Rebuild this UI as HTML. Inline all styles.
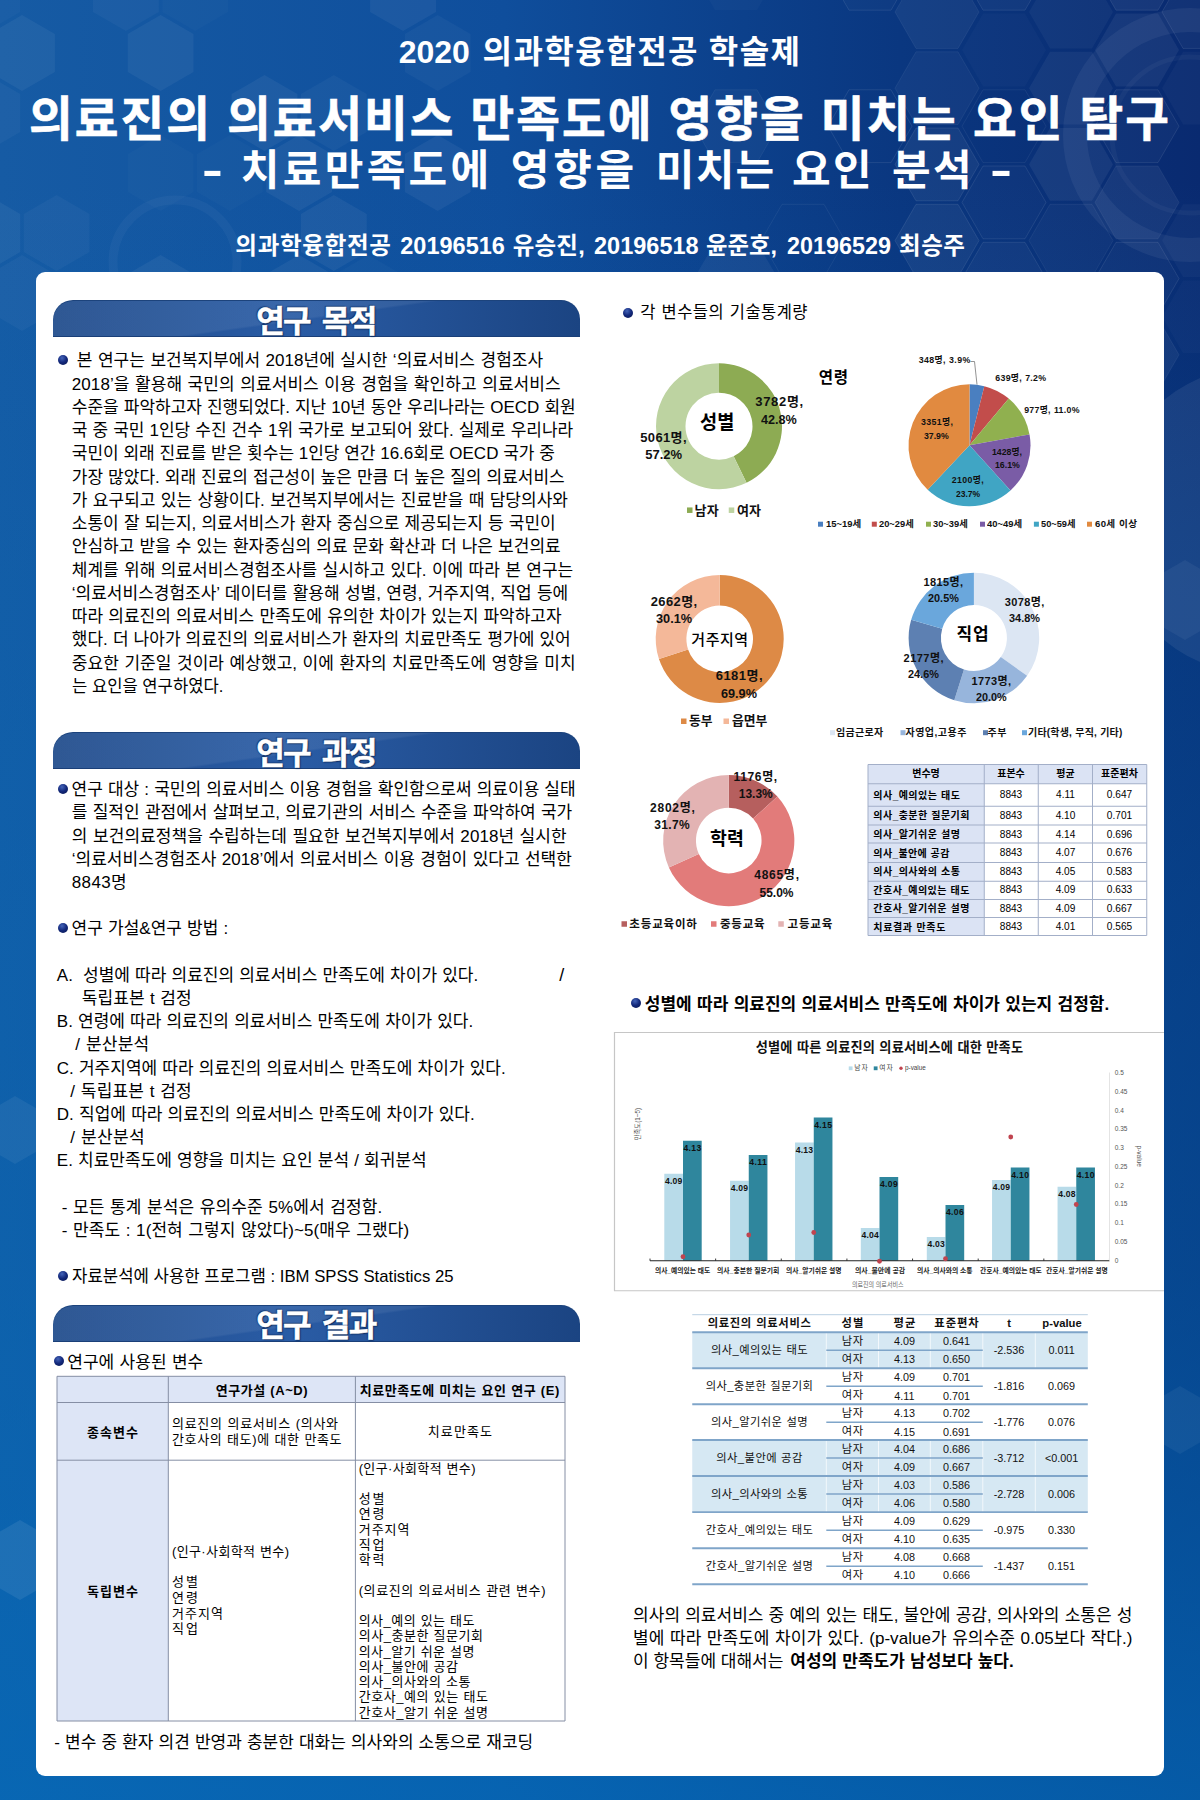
<!DOCTYPE html>
<html lang="ko"><head><meta charset="utf-8"><title>의료진의 의료서비스 만족도에 영향을 미치는 요인 탐구</title>
<style>

html,body{margin:0;padding:0}
body{width:1200px;height:1800px;overflow:hidden;background:#0d4d9c}
#poster{position:relative;width:1200px;height:1800px;overflow:hidden;font-family:'Liberation Sans','Noto Sans CJK KR',sans-serif;color:#000;
 background:linear-gradient(to bottom,rgba(4,104,180,0) 10%,rgba(4,104,180,.2) 30%,rgba(4,104,180,.34) 50%,rgba(4,104,180,.45) 70%,rgba(4,105,182,.6) 85%,rgba(4,106,184,.76) 100%),linear-gradient(to right,#165ba4 0%,#0f4e9c 42%,#0a3780 75%,#092a70 100%)}
.t{position:absolute;white-space:pre}
.abs{position:absolute}
#panel{left:36px;top:272.4px;width:1128px;height:1503.6px;background:#fff;border-radius:9px}
.ban{left:53px;width:527px;height:37px;border-radius:20px 19px 0 0;
 background:linear-gradient(172deg,rgba(255,255,255,.07) 0%,rgba(255,255,255,.07) 48%,rgba(255,255,255,0) 50%),linear-gradient(to right,#1f4b8b 0%,#2a5ca5 45%,#1b4482 100%);
 box-shadow:inset 0 1px 0 #1c437c, inset 0 -1px 0 #1a3f78}
.bt{color:#fff;font-weight:700;-webkit-text-stroke:0.5px #fff;text-shadow:0 0 2px #0c2a5c,1px 1px 1px #0c2a5c,-1px -1px 1px #16386e}
.bu{width:10px;height:10px;border-radius:50%;background:radial-gradient(circle at 40% 30%,#4464b8 0%,#13297c 48%,#07154b 100%)}
.tt{-webkit-text-stroke:0.6px #fff}
svg{position:absolute;left:0;top:0;overflow:visible}

</style></head>
<body>
<div id="poster">
<svg width="1200" height="1800" viewBox="0 0 1200 1800"><polygon points="20.3,12.0 -12.6,31.0 -45.5,12.0 -45.5,-26.0 -12.6,-45.0 20.3,-26.0" fill="#fff" fill-opacity="0.025"/><polygon points="158.8,12.0 125.9,31.0 93.0,12.0 93.0,-26.0 125.9,-45.0 158.8,-26.0" fill="#fff" fill-opacity="0.035"/><polygon points="228.1,12.0 195.2,31.0 162.3,12.0 162.3,-26.0 195.2,-45.0 228.1,-26.0" fill="#fff" fill-opacity="0.02"/><polygon points="436.0,12.0 403.1,31.0 370.1,12.0 370.1,-26.0 403.1,-45.0 436.0,-26.0" fill="#fff" fill-opacity="0.05"/><polygon points="-14.4,72.0 -47.3,91.0 -80.2,72.0 -80.2,34.0 -47.3,15.0 -14.4,34.0" fill="#fff" fill-opacity="0.025"/><polygon points="54.9,72.0 22.0,91.0 -10.9,72.0 -10.9,34.0 22.0,15.0 54.9,34.0" fill="#fff" fill-opacity="0.05"/><polygon points="193.5,72.0 160.6,91.0 127.7,72.0 127.7,34.0 160.6,15.0 193.5,34.0" fill="#fff" fill-opacity="0.05"/><polygon points="470.6,72.0 437.7,91.0 404.8,72.0 404.8,34.0 437.7,15.0 470.6,34.0" fill="#fff" fill-opacity="0.035"/><polygon points="20.3,132.0 -12.6,151.0 -45.5,132.0 -45.5,94.0 -12.6,75.0 20.3,94.0" fill="#fff" fill-opacity="0.035"/><polygon points="297.4,132.0 264.5,151.0 231.6,132.0 231.6,94.0 264.5,75.0 297.4,94.0" fill="#fff" fill-opacity="0.05"/><polygon points="366.7,132.0 333.8,151.0 300.9,132.0 300.9,94.0 333.8,75.0 366.7,94.0" fill="#fff" fill-opacity="0.035"/><polygon points="-14.4,192.0 -47.3,211.0 -80.2,192.0 -80.2,154.0 -47.3,135.0 -14.4,154.0" fill="#fff" fill-opacity="0.05"/><polygon points="193.5,192.0 160.6,211.0 127.7,192.0 127.7,154.0 160.6,135.0 193.5,154.0" fill="#fff" fill-opacity="0.02"/><polygon points="262.8,192.0 229.8,211.0 196.9,192.0 196.9,154.0 229.8,135.0 262.8,154.0" fill="#fff" fill-opacity="0.02"/><polygon points="332.0,192.0 299.1,211.0 266.2,192.0 266.2,154.0 299.1,135.0 332.0,154.0" fill="#fff" fill-opacity="0.05"/><polygon points="470.6,192.0 437.7,211.0 404.8,192.0 404.8,154.0 437.7,135.0 470.6,154.0" fill="#fff" fill-opacity="0.05"/><polygon points="20.3,252.0 -12.6,271.0 -45.5,252.0 -45.5,214.0 -12.6,195.0 20.3,214.0" fill="#fff" fill-opacity="0.05"/><polygon points="89.5,252.0 56.6,271.0 23.7,252.0 23.7,214.0 56.6,195.0 89.5,214.0" fill="#fff" fill-opacity="0.035"/><polygon points="366.7,252.0 333.8,271.0 300.9,252.0 300.9,214.0 333.8,195.0 366.7,214.0" fill="#fff" fill-opacity="0.05"/><polygon points="-14.4,312.0 -47.3,331.0 -80.2,312.0 -80.2,274.0 -47.3,255.0 -14.4,274.0" fill="#fff" fill-opacity="0.025"/><polygon points="54.9,312.0 22.0,331.0 -10.9,312.0 -10.9,274.0 22.0,255.0 54.9,274.0" fill="#fff" fill-opacity="0.035"/><polygon points="193.5,312.0 160.6,331.0 127.7,312.0 127.7,274.0 160.6,255.0 193.5,274.0" fill="#fff" fill-opacity="0.05"/><polygon points="332.0,312.0 299.1,331.0 266.2,312.0 266.2,274.0 299.1,255.0 332.0,274.0" fill="#fff" fill-opacity="0.05"/><polygon points="401.3,312.0 368.4,331.0 335.5,312.0 335.5,274.0 368.4,255.0 401.3,274.0" fill="#fff" fill-opacity="0.025"/><polygon points="778.0,-26.2 757.0,10.2 715.0,10.2 694.0,-26.2 715.0,-62.6 757.0,-62.6" fill="#fff" fill-opacity="0.025" stroke="#fff" stroke-opacity="0" stroke-width="1"/><polygon points="778.0,126.2 757.0,162.6 715.0,162.6 694.0,126.2 715.0,89.8 757.0,89.8" fill="#fff" fill-opacity="0.03" stroke="#fff" stroke-opacity="0.06" stroke-width="1"/><polygon points="778.0,278.6 757.0,315.0 715.0,315.0 694.0,278.6 715.0,242.3 757.0,242.3" fill="#fff" fill-opacity="0.05" stroke="#fff" stroke-opacity="0" stroke-width="1"/><polygon points="778.0,354.8 757.0,391.2 715.0,391.2 694.0,354.8 715.0,318.5 757.0,318.5" fill="#fff" fill-opacity="0.06" stroke="#fff" stroke-opacity="0.09" stroke-width="1"/><polygon points="845.0,-64.2 824.0,-27.8 782.0,-27.8 761.0,-64.2 782.0,-100.6 824.0,-100.6" fill="#fff" fill-opacity="0.06" stroke="#fff" stroke-opacity="0.09" stroke-width="1"/><polygon points="845.0,240.6 824.0,277.0 782.0,277.0 761.0,240.6 782.0,204.3 824.0,204.3" fill="#fff" fill-opacity="0" stroke="#fff" stroke-opacity="0.06" stroke-width="1"/><polygon points="912.0,-26.2 891.0,10.2 849.0,10.2 828.0,-26.2 849.0,-62.6 891.0,-62.6" fill="#fff" fill-opacity="0.025" stroke="#fff" stroke-opacity="0.09" stroke-width="1"/><polygon points="912.0,126.2 891.0,162.6 849.0,162.6 828.0,126.2 849.0,89.8 891.0,89.8" fill="#fff" fill-opacity="0" stroke="#fff" stroke-opacity="0.09" stroke-width="1"/><polygon points="912.0,354.8 891.0,391.2 849.0,391.2 828.0,354.8 849.0,318.5 891.0,318.5" fill="#fff" fill-opacity="0.06" stroke="#fff" stroke-opacity="0" stroke-width="1"/><polygon points="979.0,-64.2 958.0,-27.8 916.0,-27.8 895.0,-64.2 916.0,-100.6 958.0,-100.6" fill="#fff" fill-opacity="0.025" stroke="#fff" stroke-opacity="0" stroke-width="1"/><polygon points="979.0,12.0 958.0,48.4 916.0,48.4 895.0,12.0 916.0,-24.4 958.0,-24.4" fill="#fff" fill-opacity="0.05" stroke="#fff" stroke-opacity="0.06" stroke-width="1"/><polygon points="979.0,88.2 958.0,124.6 916.0,124.6 895.0,88.2 916.0,51.8 958.0,51.8" fill="#fff" fill-opacity="0.04" stroke="#fff" stroke-opacity="0.06" stroke-width="1"/><polygon points="979.0,164.4 958.0,200.8 916.0,200.8 895.0,164.4 916.0,128.0 958.0,128.0" fill="#fff" fill-opacity="0.05" stroke="#fff" stroke-opacity="0.09" stroke-width="1"/><polygon points="979.0,240.6 958.0,277.0 916.0,277.0 895.0,240.6 916.0,204.3 958.0,204.3" fill="#fff" fill-opacity="0.05" stroke="#fff" stroke-opacity="0.09" stroke-width="1"/><polygon points="1046.0,-26.2 1025.0,10.2 983.0,10.2 962.0,-26.2 983.0,-62.6 1025.0,-62.6" fill="#fff" fill-opacity="0.04" stroke="#fff" stroke-opacity="0.09" stroke-width="1"/><polygon points="1046.0,50.0 1025.0,86.4 983.0,86.4 962.0,50.0 983.0,13.6 1025.0,13.6" fill="#fff" fill-opacity="0.025" stroke="#fff" stroke-opacity="0" stroke-width="1"/><polygon points="1046.0,126.2 1025.0,162.6 983.0,162.6 962.0,126.2 983.0,89.8 1025.0,89.8" fill="#fff" fill-opacity="0" stroke="#fff" stroke-opacity="0.06" stroke-width="1"/><polygon points="1046.0,202.4 1025.0,238.8 983.0,238.8 962.0,202.4 983.0,166.0 1025.0,166.0" fill="#fff" fill-opacity="0.025" stroke="#fff" stroke-opacity="0.09" stroke-width="1"/><polygon points="1046.0,278.6 1025.0,315.0 983.0,315.0 962.0,278.6 983.0,242.3 1025.0,242.3" fill="#fff" fill-opacity="0.04" stroke="#fff" stroke-opacity="0.09" stroke-width="1"/><polygon points="1046.0,354.8 1025.0,391.2 983.0,391.2 962.0,354.8 983.0,318.5 1025.0,318.5" fill="#fff" fill-opacity="0.025" stroke="#fff" stroke-opacity="0.06" stroke-width="1"/><polygon points="1113.0,-64.2 1092.0,-27.8 1050.0,-27.8 1029.0,-64.2 1050.0,-100.6 1092.0,-100.6" fill="#fff" fill-opacity="0" stroke="#fff" stroke-opacity="0.09" stroke-width="1"/><polygon points="1113.0,12.0 1092.0,48.4 1050.0,48.4 1029.0,12.0 1050.0,-24.4 1092.0,-24.4" fill="#fff" fill-opacity="0.04" stroke="#fff" stroke-opacity="0" stroke-width="1"/><polygon points="1113.0,88.2 1092.0,124.6 1050.0,124.6 1029.0,88.2 1050.0,51.8 1092.0,51.8" fill="#fff" fill-opacity="0.05" stroke="#fff" stroke-opacity="0" stroke-width="1"/><polygon points="1113.0,164.4 1092.0,200.8 1050.0,200.8 1029.0,164.4 1050.0,128.0 1092.0,128.0" fill="#fff" fill-opacity="0.06" stroke="#fff" stroke-opacity="0" stroke-width="1"/><polygon points="1113.0,240.6 1092.0,277.0 1050.0,277.0 1029.0,240.6 1050.0,204.3 1092.0,204.3" fill="#fff" fill-opacity="0.03" stroke="#fff" stroke-opacity="0.06" stroke-width="1"/><polygon points="1113.0,316.8 1092.0,353.2 1050.0,353.2 1029.0,316.8 1050.0,280.5 1092.0,280.5" fill="#fff" fill-opacity="0.03" stroke="#fff" stroke-opacity="0" stroke-width="1"/><polygon points="1179.0,-26.2 1158.0,10.2 1116.0,10.2 1095.0,-26.2 1116.0,-62.6 1158.0,-62.6" fill="#fff" fill-opacity="0.06" stroke="#fff" stroke-opacity="0.09" stroke-width="1"/><polygon points="1179.0,50.0 1158.0,86.4 1116.0,86.4 1095.0,50.0 1116.0,13.6 1158.0,13.6" fill="#fff" fill-opacity="0.06" stroke="#fff" stroke-opacity="0" stroke-width="1"/><polygon points="1179.0,126.2 1158.0,162.6 1116.0,162.6 1095.0,126.2 1116.0,89.8 1158.0,89.8" fill="#fff" fill-opacity="0.03" stroke="#fff" stroke-opacity="0.09" stroke-width="1"/><polygon points="1179.0,202.4 1158.0,238.8 1116.0,238.8 1095.0,202.4 1116.0,166.0 1158.0,166.0" fill="#fff" fill-opacity="0.06" stroke="#fff" stroke-opacity="0.06" stroke-width="1"/><polygon points="1179.0,278.6 1158.0,315.0 1116.0,315.0 1095.0,278.6 1116.0,242.3 1158.0,242.3" fill="#fff" fill-opacity="0.03" stroke="#fff" stroke-opacity="0.09" stroke-width="1"/><polygon points="1179.0,354.8 1158.0,391.2 1116.0,391.2 1095.0,354.8 1116.0,318.5 1158.0,318.5" fill="#fff" fill-opacity="0.05" stroke="#fff" stroke-opacity="0.06" stroke-width="1"/><polygon points="1246.0,-64.2 1225.0,-27.8 1183.0,-27.8 1162.0,-64.2 1183.0,-100.6 1225.0,-100.6" fill="#fff" fill-opacity="0.025" stroke="#fff" stroke-opacity="0.09" stroke-width="1"/><polygon points="1246.0,12.0 1225.0,48.4 1183.0,48.4 1162.0,12.0 1183.0,-24.4 1225.0,-24.4" fill="#fff" fill-opacity="0.04" stroke="#fff" stroke-opacity="0.09" stroke-width="1"/><polygon points="1246.0,88.2 1225.0,124.6 1183.0,124.6 1162.0,88.2 1183.0,51.8 1225.0,51.8" fill="#fff" fill-opacity="0.03" stroke="#fff" stroke-opacity="0" stroke-width="1"/><polygon points="1246.0,240.6 1225.0,277.0 1183.0,277.0 1162.0,240.6 1183.0,204.3 1225.0,204.3" fill="#fff" fill-opacity="0.03" stroke="#fff" stroke-opacity="0" stroke-width="1"/><polygon points="1246.0,316.8 1225.0,353.2 1183.0,353.2 1162.0,316.8 1183.0,280.5 1225.0,280.5" fill="#fff" fill-opacity="0.025" stroke="#fff" stroke-opacity="0" stroke-width="1"/><circle cx="1190" cy="135" r="115" fill="none" stroke="#fff" stroke-opacity=".055" stroke-width="24"/><circle cx="1190" cy="135" r="78" fill="none" stroke="#fff" stroke-opacity=".035" stroke-width="5"/><circle cx="1262" cy="520" r="155" fill="#fff" fill-opacity=".07"/><circle cx="175" cy="262" r="62" fill="none" stroke="#fff" stroke-opacity=".035" stroke-width="9"/><polygon points="44.4,1147.0 15.0,1164.0 -14.4,1147.0 -14.4,1113.0 15.0,1096.0 44.4,1113.0" fill="#fff" fill-opacity="0.06"/><polygon points="54.6,1580.0 20.0,1600.0 -14.6,1580.0 -14.6,1540.0 20.0,1520.0 54.6,1540.0" fill="#fff" fill-opacity="0.08"/><polygon points="1219.6,620.0 1185.0,640.0 1150.4,620.0 1150.4,580.0 1185.0,560.0 1219.6,580.0" fill="#fff" fill-opacity="0.05"/><polygon points="1209.4,1437.0 1180.0,1454.0 1150.6,1437.0 1150.6,1403.0 1180.0,1386.0 1209.4,1403.0" fill="#fff" fill-opacity="0.05"/></svg>
<div class="abs" id="panel"></div>
<div class="abs ban" style="top:300px"></div>
<div class="abs ban" style="top:732px"></div>
<div class="abs ban" style="top:1304.5px"></div>
<div class="abs bu" style="left:57.5px;top:355.0px;width:10px;height:10px"></div>
<div class="abs bu" style="left:57.5px;top:783.5px;width:10px;height:10px"></div>
<div class="abs bu" style="left:57.5px;top:922.7px;width:10px;height:10px"></div>
<div class="abs bu" style="left:57.5px;top:1270.7px;width:10px;height:10px"></div>
<div class="abs bu" style="left:53.75px;top:1356.25px;width:10px;height:10px"></div>
<svg width="1200" height="1800" viewBox="0 0 1200 1800"><rect x="57" y="1376.3" width="508" height="26.200000000000045" fill="#dde5f6"/><rect x="57" y="1376.3" width="111.30000000000001" height="344.70000000000005" fill="#dde5f6"/><line x1="57" y1="1376.3" x2="57" y2="1721" stroke="#858ea4" stroke-width="1"/><line x1="168.3" y1="1376.3" x2="168.3" y2="1721" stroke="#858ea4" stroke-width="1"/><line x1="355.4" y1="1376.3" x2="355.4" y2="1721" stroke="#858ea4" stroke-width="1"/><line x1="565" y1="1376.3" x2="565" y2="1721" stroke="#858ea4" stroke-width="1"/><line x1="57" y1="1376.3" x2="565" y2="1376.3" stroke="#858ea4" stroke-width="1"/><line x1="57" y1="1402.5" x2="565" y2="1402.5" stroke="#858ea4" stroke-width="1"/><line x1="57" y1="1460.2" x2="565" y2="1460.2" stroke="#858ea4" stroke-width="1"/><line x1="57" y1="1721" x2="565" y2="1721" stroke="#858ea4" stroke-width="1"/></svg>
<div class="abs bu" style="left:622.7px;top:307.5px;width:10px;height:10px"></div>
<div class="abs bu" style="left:631.0px;top:998.4px;width:10px;height:10px"></div>
<svg width="1200" height="1800" viewBox="0 0 1200 1800"><path d="M719.00,363.20A63,63 0 0 1 746.54,482.86L733.64,456.33A33.5,33.5 0 0 0 719.00,392.70Z" fill="#8dab53"/><path d="M746.54,482.86A63,63 0 1 1 719.00,363.20L719.00,392.70A33.5,33.5 0 1 0 733.64,456.33Z" fill="#bdd3a1"/><path d="M969.5,445.3L969.50,384.30A61,61 0 0 1 984.33,386.13Z" fill="#4a7fc0"/><path d="M969.5,445.3L984.33,386.13A61,61 0 0 1 1008.74,398.60Z" fill="#c24d4b"/><path d="M969.5,445.3L1008.74,398.60A61,61 0 0 1 1029.52,434.41Z" fill="#90b04f"/><path d="M969.5,445.3L1029.52,434.41A61,61 0 0 1 1010.48,490.49Z" fill="#7a5ca6"/><path d="M969.5,445.3L1010.48,490.49A61,61 0 0 1 927.68,489.70Z" fill="#40a5c4"/><path d="M969.5,445.3L927.68,489.70A61,61 0 0 1 969.50,384.30Z" fill="#e18a40"/><path d="M719.70,574.90A64,64 0 1 1 658.96,659.06L688.10,649.39A33.3,33.3 0 1 0 719.70,605.60Z" fill="#dd8a46"/><path d="M658.96,659.06A64,64 0 0 1 719.70,574.90L719.70,605.60A33.3,33.3 0 0 0 688.10,649.39Z" fill="#f4b899"/><path d="M973.90,572.70A65.3,65.3 0 0 1 1027.12,675.83L1000.80,657.12A33,33 0 0 0 973.90,605.00Z" fill="#dce6f3"/><path d="M1027.12,675.83A65.3,65.3 0 0 1 954.29,700.29L963.99,669.48A33,33 0 0 0 1000.80,657.12Z" fill="#97b5dc"/><path d="M954.29,700.29A65.3,65.3 0 0 1 911.17,619.86L942.20,628.83A33,33 0 0 0 963.99,669.48Z" fill="#5d80b2"/><path d="M911.17,619.86A65.3,65.3 0 0 1 973.90,572.70L973.90,605.00A33,33 0 0 0 942.20,628.83Z" fill="#6aa7dc"/><path d="M728.75,775.00A65.6,65.6 0 0 1 777.41,796.60L753.08,818.60A32.8,32.8 0 0 0 728.75,807.80Z" fill="#b65f5e"/><path d="M777.41,796.60A65.6,65.6 0 1 1 668.88,867.41L698.81,854.00A32.8,32.8 0 1 0 753.08,818.60Z" fill="#e27b7a"/><path d="M668.88,867.41A65.6,65.6 0 0 1 728.75,775.00L728.75,807.80A32.8,32.8 0 0 0 698.81,854.00Z" fill="#e3b3b3"/><polyline points="970.5,361.5 974.5,361.5 977,384.5" fill="none" stroke="#777" stroke-width="0.8"/><rect x="687" y="507.45" width="5.5" height="5.5" fill="#8dab53"/><rect x="728.75" y="507.45" width="5.5" height="5.5" fill="#bdd3a1"/><rect x="818" y="521.7" width="5" height="5" fill="#4a7fc0"/><rect x="871.8" y="521.7" width="5" height="5" fill="#c24d4b"/><rect x="926" y="521.7" width="5" height="5" fill="#90b04f"/><rect x="980" y="521.7" width="5" height="5" fill="#7a5ca6"/><rect x="1033.9" y="521.7" width="5" height="5" fill="#40a5c4"/><rect x="1087" y="521.7" width="5" height="5" fill="#e18a40"/><rect x="681" y="718.5" width="5.5" height="5.5" fill="#dd8a46"/><rect x="723.5" y="718.5" width="5.5" height="5.5" fill="#f4b899"/><rect x="830" y="730.2" width="5" height="5" fill="#dce6f3"/><rect x="900.5" y="730.2" width="5" height="5" fill="#97b5dc"/><rect x="983" y="730.2" width="5" height="5" fill="#5d80b2"/><rect x="1022" y="730.2" width="5" height="5" fill="#6aa7dc"/><rect x="621.5" y="921.25" width="5.5" height="5.5" fill="#b65f5e"/><rect x="711" y="921.25" width="5.5" height="5.5" fill="#e27b7a"/><rect x="778.3" y="921.25" width="5.5" height="5.5" fill="#e3b3b3"/><rect x="868" y="764.5" width="278.75" height="19.25" fill="#dbe3f4"/><rect x="868" y="764.5" width="116.25" height="171.0" fill="#dbe3f4"/><line x1="868" y1="764.5" x2="868" y2="935.5" stroke="#a3afc8" stroke-width="1"/><line x1="984.25" y1="764.5" x2="984.25" y2="935.5" stroke="#a3afc8" stroke-width="1"/><line x1="1038.25" y1="764.5" x2="1038.25" y2="935.5" stroke="#a3afc8" stroke-width="1"/><line x1="1092.5" y1="764.5" x2="1092.5" y2="935.5" stroke="#a3afc8" stroke-width="1"/><line x1="1146.75" y1="764.5" x2="1146.75" y2="935.5" stroke="#a3afc8" stroke-width="1"/><line x1="868" y1="764.5" x2="1146.75" y2="764.5" stroke="#a3afc8" stroke-width="1"/><line x1="868" y1="783.75" x2="1146.75" y2="783.75" stroke="#a3afc8" stroke-width="1"/><line x1="868" y1="806.25" x2="1146.75" y2="806.25" stroke="#a3afc8" stroke-width="1"/><line x1="868" y1="825" x2="1146.75" y2="825" stroke="#a3afc8" stroke-width="1"/><line x1="868" y1="843" x2="1146.75" y2="843" stroke="#a3afc8" stroke-width="1"/><line x1="868" y1="862.5" x2="1146.75" y2="862.5" stroke="#a3afc8" stroke-width="1"/><line x1="868" y1="881.25" x2="1146.75" y2="881.25" stroke="#a3afc8" stroke-width="1"/><line x1="868" y1="899.5" x2="1146.75" y2="899.5" stroke="#a3afc8" stroke-width="1"/><line x1="868" y1="917.5" x2="1146.75" y2="917.5" stroke="#a3afc8" stroke-width="1"/><line x1="868" y1="935.5" x2="1146.75" y2="935.5" stroke="#a3afc8" stroke-width="1"/><path d="M1164,1032.5H614.5V1290.75H1164" fill="none" stroke="#c6c6c6" stroke-width="1.2"/><rect x="848.75" y="1066.4" width="3.8" height="3.8" fill="#b8dbe9"/><rect x="873.75" y="1066.4" width="3.8" height="3.8" fill="#2f869d"/><circle cx="901" cy="1068.3" r="1.7" fill="#c0444f"/><rect x="664.30" y="1173.75" width="18.7" height="87.00" fill="#b8dbe9"/><rect x="683.00" y="1140.75" width="18.7" height="120.00" fill="#2f869d"/><rect x="730.05" y="1180.75" width="18.7" height="80.00" fill="#b8dbe9"/><rect x="748.75" y="1155" width="18.7" height="105.75" fill="#2f869d"/><rect x="795.05" y="1142.5" width="18.7" height="118.25" fill="#b8dbe9"/><rect x="813.75" y="1117.5" width="18.7" height="143.25" fill="#2f869d"/><rect x="860.80" y="1228" width="18.7" height="32.75" fill="#b8dbe9"/><rect x="879.50" y="1177" width="18.7" height="83.75" fill="#2f869d"/><rect x="926.80" y="1237" width="18.7" height="23.75" fill="#b8dbe9"/><rect x="945.50" y="1205" width="18.7" height="55.75" fill="#2f869d"/><rect x="992.05" y="1180" width="18.7" height="80.75" fill="#b8dbe9"/><rect x="1010.75" y="1167.5" width="18.7" height="93.25" fill="#2f869d"/><rect x="1057.55" y="1186.75" width="18.7" height="74.00" fill="#b8dbe9"/><rect x="1076.25" y="1167.5" width="18.7" height="93.25" fill="#2f869d"/><line x1="650" y1="1260.75" x2="1109.5" y2="1260.75" stroke="#222" stroke-width="1"/><line x1="650.00" y1="1258.55" x2="650.00" y2="1260.75" stroke="#222" stroke-width="0.9"/><line x1="715.64" y1="1258.55" x2="715.64" y2="1260.75" stroke="#222" stroke-width="0.9"/><line x1="781.28" y1="1258.55" x2="781.28" y2="1260.75" stroke="#222" stroke-width="0.9"/><line x1="846.92" y1="1258.55" x2="846.92" y2="1260.75" stroke="#222" stroke-width="0.9"/><line x1="912.56" y1="1258.55" x2="912.56" y2="1260.75" stroke="#222" stroke-width="0.9"/><line x1="978.20" y1="1258.55" x2="978.20" y2="1260.75" stroke="#222" stroke-width="0.9"/><line x1="1043.84" y1="1258.55" x2="1043.84" y2="1260.75" stroke="#222" stroke-width="0.9"/><line x1="1109.48" y1="1258.55" x2="1109.48" y2="1260.75" stroke="#222" stroke-width="0.9"/><line x1="1109.5" y1="1072.5" x2="1109.5" y2="1260.75" stroke="#e4e4e4" stroke-width="1"/><circle cx="683" cy="1256.75" r="2.4" fill="#c0444f"/><circle cx="748.75" cy="1235" r="2.4" fill="#c0444f"/><circle cx="813.75" cy="1232.5" r="2.4" fill="#c0444f"/><circle cx="879.5" cy="1261.25" r="2.4" fill="#c0444f"/><circle cx="945.5" cy="1258.75" r="2.4" fill="#c0444f"/><circle cx="1010.75" cy="1137" r="2.4" fill="#c0444f"/><circle cx="1076.25" cy="1204.5" r="2.4" fill="#c0444f"/><rect x="692.25" y="1332.2" width="395.54999999999995" height="36.049999999999955" fill="#d6e8f3"/><rect x="692.25" y="1440" width="395.54999999999995" height="36" fill="#d6e8f3"/><rect x="692.25" y="1476" width="395.54999999999995" height="36.09999999999991" fill="#d6e8f3"/><line x1="826.3" y1="1314.7" x2="826.3" y2="1584.2" stroke="#fff" stroke-opacity=".7" stroke-width="1"/><line x1="878.5" y1="1314.7" x2="878.5" y2="1584.2" stroke="#fff" stroke-opacity=".7" stroke-width="1"/><line x1="930.3" y1="1314.7" x2="930.3" y2="1584.2" stroke="#fff" stroke-opacity=".7" stroke-width="1"/><line x1="982.8" y1="1314.7" x2="982.8" y2="1584.2" stroke="#fff" stroke-opacity=".7" stroke-width="1"/><line x1="1035.3" y1="1314.7" x2="1035.3" y2="1584.2" stroke="#fff" stroke-opacity=".7" stroke-width="1"/><line x1="692.25" y1="1314.7" x2="1087.8" y2="1314.7" stroke="#b9cfe2" stroke-width="1"/><line x1="692.25" y1="1332.2" x2="1087.8" y2="1332.2" stroke="#7fa5c9" stroke-width="1.9"/><line x1="692.25" y1="1368.25" x2="1087.8" y2="1368.25" stroke="#7fa5c9" stroke-width="1.9"/><line x1="692.25" y1="1404.3" x2="1087.8" y2="1404.3" stroke="#7fa5c9" stroke-width="1.9"/><line x1="692.25" y1="1440" x2="1087.8" y2="1440" stroke="#7fa5c9" stroke-width="1.9"/><line x1="692.25" y1="1476" x2="1087.8" y2="1476" stroke="#7fa5c9" stroke-width="1.9"/><line x1="692.25" y1="1512.1" x2="1087.8" y2="1512.1" stroke="#7fa5c9" stroke-width="1.9"/><line x1="692.25" y1="1548.2" x2="1087.8" y2="1548.2" stroke="#7fa5c9" stroke-width="1.9"/><line x1="692.25" y1="1584.2" x2="1087.8" y2="1584.2" stroke="#7fa5c9" stroke-width="1.9"/><line x1="826.3" y1="1350.225" x2="982.8" y2="1350.225" stroke="#7fa5c9" stroke-width="1.5"/><line x1="826.3" y1="1386.275" x2="982.8" y2="1386.275" stroke="#7fa5c9" stroke-width="1.5"/><line x1="826.3" y1="1422.15" x2="982.8" y2="1422.15" stroke="#7fa5c9" stroke-width="1.5"/><line x1="826.3" y1="1458.0" x2="982.8" y2="1458.0" stroke="#7fa5c9" stroke-width="1.5"/><line x1="826.3" y1="1494.05" x2="982.8" y2="1494.05" stroke="#7fa5c9" stroke-width="1.5"/><line x1="826.3" y1="1530.15" x2="982.8" y2="1530.15" stroke="#7fa5c9" stroke-width="1.5"/><line x1="826.3" y1="1566.2" x2="982.8" y2="1566.2" stroke="#7fa5c9" stroke-width="1.5"/></svg>

<div class="t" style="font-size:32px;line-height:41.6px;top:31.8px;font-weight:700;color:#fff;left:398.72px;">2020</div>
<div class="t" style="font-size:32px;line-height:41.6px;top:31.8px;font-weight:700;color:#fff;left:482.47px;letter-spacing:1.494px;">의과학융합전공</div>
<div class="t" style="font-size:32px;line-height:41.6px;top:31.8px;font-weight:700;color:#fff;left:708.72px;letter-spacing:1.491px;">학술제</div>
<div class="t tt" style="font-size:47.5px;line-height:61.75px;top:88.62px;font-weight:700;color:#fff;word-spacing:0px;left:29.1px;letter-spacing:1.983px;">의료진의 의료서비스 만족도에 영향을 미치는 요인 탐구</div>
<div class="t" style="font-size:42px;line-height:54.6px;top:144.2px;font-weight:700;color:#fff;left:240.82px;letter-spacing:3.303px;">치료만족도에</div>
<div class="t" style="font-size:42px;line-height:54.6px;top:144.2px;font-weight:700;color:#fff;left:510.82px;letter-spacing:3.719px;">영향을</div>
<div class="t" style="font-size:42px;line-height:54.6px;top:144.2px;font-weight:700;color:#fff;left:655.82px;letter-spacing:1.219px;">미치는</div>
<div class="t" style="font-size:42px;line-height:54.6px;top:144.2px;font-weight:700;color:#fff;left:792.07px;letter-spacing:2.329px;">요인</div>
<div class="t" style="font-size:42px;line-height:54.6px;top:144.2px;font-weight:700;color:#fff;left:892.07px;letter-spacing:2.329px;">분석</div>
<div class="t" style="font-size:42px;line-height:54.6px;top:144.2px;font-weight:700;color:#fff;left:202.07px;transform:scaleX(1.4900);transform-origin:left center;">-</div>
<div class="t" style="font-size:42px;line-height:54.6px;top:144.2px;font-weight:700;color:#fff;left:989.57px;transform:scaleX(1.5793);transform-origin:left center;">-</div>
<div class="t" style="font-size:23.5px;line-height:30.55px;top:230.72px;font-weight:700;color:#fff;left:235.31px;letter-spacing:0.714px;">의과학융합전공</div>
<div class="t" style="font-size:23.5px;line-height:30.55px;top:230.72px;font-weight:700;color:#fff;left:400.31px;">20196516</div>
<div class="t" style="font-size:23.5px;line-height:30.55px;top:230.72px;font-weight:700;color:#fff;left:512.81px;letter-spacing:0.163px;">유승진,</div>
<div class="t" style="font-size:23.5px;line-height:30.55px;top:230.72px;font-weight:700;color:#fff;left:594.06px;">20196518</div>
<div class="t" style="font-size:23.5px;line-height:30.55px;top:230.72px;font-weight:700;color:#fff;left:706.06px;transform:scaleX(0.9928);transform-origin:left center;">윤준호,</div>
<div class="t" style="font-size:23.5px;line-height:30.55px;top:230.72px;font-weight:700;color:#fff;left:786.56px;transform:scaleX(0.9935);transform-origin:left center;">20196529</div>
<div class="t" style="font-size:23.5px;line-height:30.55px;top:230.72px;font-weight:700;color:#fff;left:899.06px;letter-spacing:0.502px;">최승주</div>
<div class="t bt" style="font-size:31px;line-height:40.3px;top:301.65px;font-weight:700;color:#fff;word-spacing:5px;left:256.26px;letter-spacing:-1.681px;">연구 목적</div>
<div class="t bt" style="font-size:31px;line-height:40.3px;top:733.65px;font-weight:700;color:#fff;word-spacing:5px;left:256.26px;letter-spacing:-1.681px;">연구 과정</div>
<div class="t bt" style="font-size:31px;line-height:40.3px;top:1306.15px;font-weight:700;color:#fff;word-spacing:5px;left:256.26px;letter-spacing:-1.681px;">연구 결과</div>
<div class="t" style="font-size:17px;line-height:22.1px;top:350.35px;left:76.82px;word-spacing:0.68px;letter-spacing:0.038px;">본 연구는 보건복지부에서 2018년에 실시한 ‘의료서비스 경험조사</div>
<div class="t" style="font-size:17px;line-height:22.1px;top:373.6px;left:71.82px;word-spacing:0.68px;letter-spacing:0.076px;">2018’을 활용해 국민의 의료서비스 이용 경험을 확인하고 의료서비스</div>
<div class="t" style="font-size:17px;line-height:22.1px;top:396.85px;left:71.82px;word-spacing:0.29px;">수준을 파악하고자 진행되었다. 지난 10년 동안 우리나라는 OECD 회원</div>
<div class="t" style="font-size:17px;line-height:22.1px;top:420.1px;left:71.82px;word-spacing:0.32px;">국 중 국민 1인당 수진 건수 1위 국가로 보고되어 왔다. 실제로 우리나라</div>
<div class="t" style="font-size:17px;line-height:22.1px;top:443.35px;left:71.82px;">국민이 외래 진료를 받은 횟수는 1인당 연간 16.6회로 OECD 국가 중</div>
<div class="t" style="font-size:17px;line-height:22.1px;top:466.6px;left:71.82px;word-spacing:0.30px;">가장 많았다. 외래 진료의 접근성이 높은 만큼 더 높은 질의 의료서비스</div>
<div class="t" style="font-size:17px;line-height:22.1px;top:489.85px;left:71.82px;word-spacing:0.68px;">가 요구되고 있는 상황이다. 보건복지부에서는 진료받을 때 담당의사와</div>
<div class="t" style="font-size:17px;line-height:22.1px;top:513.1px;left:71.82px;word-spacing:0.43px;">소통이 잘 되는지, 의료서비스가 환자 중심으로 제공되는지 등 국민이</div>
<div class="t" style="font-size:17px;line-height:22.1px;top:536.35px;left:71.82px;word-spacing:0.37px;">안심하고 받을 수 있는 환자중심의 의료 문화 확산과 더 나은 보건의료</div>
<div class="t" style="font-size:17px;line-height:22.1px;top:559.6px;left:71.82px;word-spacing:0.66px;">체계를 위해 의료서비스경험조사를 실시하고 있다. 이에 따라 본 연구는</div>
<div class="t" style="font-size:17px;line-height:22.1px;top:582.85px;left:71.82px;word-spacing:0.61px;">‘의료서비스경험조사’ 데이터를 활용해 성별, 연령, 거주지역, 직업 등에</div>
<div class="t" style="font-size:17px;line-height:22.1px;top:606.1px;left:71.82px;word-spacing:0.46px;">따라 의료진의 의료서비스 만족도에 유의한 차이가 있는지 파악하고자</div>
<div class="t" style="font-size:17px;line-height:22.1px;top:629.35px;left:71.82px;word-spacing:0.35px;">했다. 더 나아가 의료진의 의료서비스가 환자의 치료만족도 평가에 있어</div>
<div class="t" style="font-size:17px;line-height:22.1px;top:652.6px;left:71.82px;word-spacing:0.68px;letter-spacing:0.063px;">중요한 기준일 것이라 예상했고, 이에 환자의 치료만족도에 영향을 미치</div>
<div class="t" style="font-size:17px;line-height:22.1px;top:675.85px;left:71.82px;transform:scaleX(0.9769);transform-origin:left center;">는 요인을 연구하였다.</div>
<div class="t" style="font-size:17px;line-height:22.1px;top:779.25px;left:71.62px;word-spacing:0.36px;">연구 대상 : 국민의 의료서비스 이용 경험을 확인함으로써 의료이용 실태</div>
<div class="t" style="font-size:17px;line-height:22.1px;top:802.45px;left:71.82px;word-spacing:0.54px;">를 질적인 관점에서 살펴보고, 의료기관의 서비스 수준을 파악하여 국가</div>
<div class="t" style="font-size:17px;line-height:22.1px;top:825.65px;left:71.82px;word-spacing:0.68px;letter-spacing:0.065px;">의 보건의료정책을 수립하는데 필요한 보건복지부에서 2018년 실시한</div>
<div class="t" style="font-size:17px;line-height:22.1px;top:848.85px;left:71.82px;word-spacing:0.68px;">‘의료서비스경험조사 2018’에서 의료서비스 이용 경험이 있다고 선택한</div>
<div class="t" style="font-size:17px;line-height:22.1px;top:872.05px;left:71.82px;letter-spacing:0.348px;">8843명</div>
<div class="t" style="font-size:17px;line-height:22.1px;top:918.45px;left:71.62px;word-spacing:0.40px;">연구 가설&amp;연구 방법 :</div>
<div class="t" style="font-size:17px;line-height:22.1px;top:964.85px;left:56.82px;word-spacing:0.38px;">A.  성별에 따라 의료진의 의료서비스 만족도에 차이가 있다.</div>
<div class="t" style="font-size:18px;line-height:23.4px;top:964.2px;left:559.28px;">/</div>
<div class="t" style="font-size:17px;line-height:22.1px;top:988.05px;left:81.82px;word-spacing:0.68px;letter-spacing:0.061px;">독립표본 t 검정</div>
<div class="t" style="font-size:17px;line-height:22.1px;top:1011.25px;left:56.82px;word-spacing:0.40px;">B. 연령에 따라 의료진의 의료서비스 만족도에 차이가 있다.</div>
<div class="t" style="font-size:17px;line-height:22.1px;top:1034.45px;left:75.32px;word-spacing:0.68px;letter-spacing:0.233px;">/ 분산분석</div>
<div class="t" style="font-size:17px;line-height:22.1px;top:1057.65px;left:56.82px;word-spacing:0.44px;">C. 거주지역에 따라 의료진의 의료서비스 만족도에 차이가 있다.</div>
<div class="t" style="font-size:17px;line-height:22.1px;top:1080.85px;left:70.32px;word-spacing:0.68px;letter-spacing:0.185px;">/ 독립표본 t 검정</div>
<div class="t" style="font-size:17px;line-height:22.1px;top:1104.05px;left:56.82px;word-spacing:0.48px;">D. 직업에 따라 의료진의 의료서비스 만족도에 차이가 있다.</div>
<div class="t" style="font-size:17px;line-height:22.1px;top:1127.25px;left:70.32px;word-spacing:0.68px;letter-spacing:0.333px;">/ 분산분석</div>
<div class="t" style="font-size:17px;line-height:22.1px;top:1150.45px;left:56.82px;word-spacing:0.46px;">E. 치료만족도에 영향을 미치는 요인 분석 / 회귀분석</div>
<div class="t" style="font-size:17px;line-height:22.1px;top:1196.85px;left:61.82px;word-spacing:0.68px;letter-spacing:0.109px;">- 모든 통계 분석은 유의수준 5%에서 검정함.</div>
<div class="t" style="font-size:17px;line-height:22.1px;top:1220.05px;left:61.82px;word-spacing:0.68px;letter-spacing:0.094px;">- 만족도 : 1(전혀 그렇지 않았다)~5(매우 그랬다)</div>
<div class="t" style="font-size:17px;line-height:22.1px;top:1266.45px;left:71.62px;transform:scaleX(0.9834);transform-origin:left center;">자료분석에 사용한 프로그램 : IBM SPSS Statistics 25</div>
<div class="t" style="font-size:17px;line-height:22.1px;top:1351.75px;left:67.32px;word-spacing:0.64px;">연구에 사용된 변수</div>
<div class="t" style="font-size:13px;line-height:16.9px;top:1382.8px;font-weight:700;left:215.73px;word-spacing:0.52px;letter-spacing:0.532px;">연구가설 (A~D)</div>
<div class="t" style="font-size:13px;line-height:16.9px;top:1382.55px;font-weight:700;left:359.68px;word-spacing:0.52px;letter-spacing:0.539px;">치료만족도에 미치는 요인 연구 (E)</div>
<div class="t" style="font-size:13px;line-height:16.9px;top:1425.05px;font-weight:700;left:86.98px;letter-spacing:1.065px;">종속변수</div>
<div class="t" style="font-size:13px;line-height:16.9px;top:1583.85px;font-weight:700;left:86.98px;letter-spacing:1.065px;">독립변수</div>
<div class="t" style="font-size:13px;line-height:16.9px;top:1416.05px;left:171.98px;word-spacing:0.52px;letter-spacing:0.709px;">의료진의 의료서비스 (의사와</div>
<div class="t" style="font-size:13px;line-height:16.9px;top:1432.05px;left:171.98px;word-spacing:0.52px;letter-spacing:0.619px;">간호사의 태도)에 대한 만족도</div>
<div class="t" style="font-size:13px;line-height:16.9px;top:1424.25px;left:427.78px;letter-spacing:1.107px;">치료만족도</div>
<div class="t" style="font-size:13px;line-height:16.9px;top:1544.05px;left:171.98px;word-spacing:0.52px;letter-spacing:0.385px;">(인구·사회학적 변수)</div>
<div class="t" style="font-size:13px;line-height:16.9px;top:1574.05px;left:171.98px;letter-spacing:2.118px;">성별</div>
<div class="t" style="font-size:13px;line-height:16.9px;top:1590.05px;left:171.98px;letter-spacing:2.118px;">연령</div>
<div class="t" style="font-size:13px;line-height:16.9px;top:1605.55px;left:171.98px;letter-spacing:1.065px;">거주지역</div>
<div class="t" style="font-size:13px;line-height:16.9px;top:1621.05px;left:171.98px;letter-spacing:2.118px;">직업</div>
<div class="t" style="font-size:13px;line-height:16.9px;top:1460.55px;left:358.68px;word-spacing:0.52px;letter-spacing:0.367px;">(인구·사회학적 변수)</div>
<div class="t" style="font-size:13px;line-height:16.9px;top:1491.05px;left:358.68px;letter-spacing:1.918px;">성별</div>
<div class="t" style="font-size:13px;line-height:16.9px;top:1506.3px;left:358.68px;letter-spacing:1.918px;">연령</div>
<div class="t" style="font-size:13px;line-height:16.9px;top:1521.55px;left:358.68px;letter-spacing:0.999px;">거주지역</div>
<div class="t" style="font-size:13px;line-height:16.9px;top:1536.8px;left:358.68px;letter-spacing:1.918px;">직업</div>
<div class="t" style="font-size:13px;line-height:16.9px;top:1552.05px;left:358.68px;letter-spacing:1.918px;">학력</div>
<div class="t" style="font-size:13px;line-height:16.9px;top:1582.55px;left:358.68px;word-spacing:0.52px;letter-spacing:0.606px;">(의료진의 의료서비스 관련 변수)</div>
<div class="t" style="font-size:13px;line-height:16.9px;top:1613.05px;left:358.68px;word-spacing:0.52px;letter-spacing:0.466px;">의사_예의 있는 태도</div>
<div class="t" style="font-size:13px;line-height:16.9px;top:1628.3px;left:358.68px;word-spacing:0.52px;letter-spacing:0.534px;">의사_충분한 질문기회</div>
<div class="t" style="font-size:13px;line-height:16.9px;top:1643.55px;left:358.68px;word-spacing:0.52px;letter-spacing:0.466px;">의사_알기 쉬운 설명</div>
<div class="t" style="font-size:13px;line-height:16.9px;top:1658.8px;left:358.68px;word-spacing:0.52px;letter-spacing:0.532px;">의사_불안에 공감</div>
<div class="t" style="font-size:13px;line-height:16.9px;top:1674.05px;left:358.68px;word-spacing:0.52px;letter-spacing:0.532px;">의사_의사와의 소통</div>
<div class="t" style="font-size:13px;line-height:16.9px;top:1689.3px;left:358.68px;word-spacing:0.52px;letter-spacing:0.564px;">간호사_예의 있는 태도</div>
<div class="t" style="font-size:13px;line-height:16.9px;top:1704.55px;left:358.68px;word-spacing:0.52px;letter-spacing:0.564px;">간호사_알기 쉬운 설명</div>
<div class="t" style="font-size:17px;line-height:22.1px;top:1732.45px;left:54.32px;word-spacing:0.37px;">- 변수 중 환자 의견 반영과 충분한 대화는 의사와의 소통으로 재코딩</div>
<div class="t" style="font-size:16.5px;line-height:21.45px;top:302.47px;left:640.14px;word-spacing:0.66px;letter-spacing:0.466px;">각 변수들의 기술통계량</div>
<div class="t" style="font-size:13px;line-height:16.9px;top:393.55px;font-weight:700;color:#111;left:755.28px;letter-spacing:0.688px;">3782명,</div>
<div class="t" style="font-size:13px;line-height:16.9px;top:411.55px;font-weight:700;color:#111;left:761.18px;transform:scaleX(0.9719);transform-origin:left center;">42.8%</div>
<div class="t" style="font-size:13px;line-height:16.9px;top:429.55px;font-weight:700;color:#111;left:640.28px;letter-spacing:0.348px;">5061명,</div>
<div class="t" style="font-size:13px;line-height:16.9px;top:447.15px;font-weight:700;color:#111;left:645.28px;">57.2%</div>
<div class="t" style="font-size:19.5px;line-height:25.35px;top:409.82px;font-weight:700;left:699.82px;transform:scaleX(0.9546);transform-origin:left center;">성별</div>
<div class="t" style="font-size:13px;line-height:16.9px;top:502.75px;font-weight:700;color:#111;left:694.48px;letter-spacing:0.418px;">남자</div>
<div class="t" style="font-size:13px;line-height:16.9px;top:502.75px;font-weight:700;color:#111;left:736.98px;">여자</div>
<div class="t" style="font-size:15.5px;line-height:20.15px;top:367.93px;font-weight:700;left:818.78px;letter-spacing:0.809px;">연령</div>
<div class="t" style="font-size:8.8px;line-height:11.44px;top:354.68px;font-weight:700;color:#111;left:918.65px;word-spacing:0.35px;letter-spacing:0.404px;">348명, 3.9%</div>
<div class="t" style="font-size:8.8px;line-height:11.44px;top:372.58px;font-weight:700;color:#111;left:995.25px;word-spacing:0.35px;letter-spacing:0.315px;">639명, 7.2%</div>
<div class="t" style="font-size:8.8px;line-height:11.44px;top:404.58px;font-weight:700;color:#111;left:1024.15px;word-spacing:0.35px;letter-spacing:0.293px;">977명, 11.0%</div>
<div class="t" style="font-size:8.8px;line-height:11.44px;top:446.78px;font-weight:700;color:#111;left:992.45px;transform:scaleX(0.9932);transform-origin:left center;">1428명,</div>
<div class="t" style="font-size:8.8px;line-height:11.44px;top:459.78px;font-weight:700;color:#111;left:995.25px;transform:scaleX(0.9940);transform-origin:left center;">16.1%</div>
<div class="t" style="font-size:8.8px;line-height:11.44px;top:475.08px;font-weight:700;color:#111;left:951.85px;letter-spacing:0.359px;">2100명,</div>
<div class="t" style="font-size:8.8px;line-height:11.44px;top:489.28px;font-weight:700;color:#111;left:956.15px;transform:scaleX(0.9700);transform-origin:left center;">23.7%</div>
<div class="t" style="font-size:8.8px;line-height:11.44px;top:417.28px;font-weight:700;color:#111;left:921.05px;letter-spacing:0.339px;">3351명,</div>
<div class="t" style="font-size:8.8px;line-height:11.44px;top:431.48px;font-weight:700;color:#111;left:924.45px;transform:scaleX(0.9900);transform-origin:left center;">37.9%</div>
<div class="t" style="font-size:9.6px;line-height:12.48px;top:518.36px;font-weight:700;color:#111;left:825.62px;transform:scaleX(0.9829);transform-origin:left center;">15~19세</div>
<div class="t" style="font-size:9.6px;line-height:12.48px;top:518.36px;font-weight:700;color:#111;left:879.02px;transform:scaleX(0.9717);transform-origin:left center;">20~29세</div>
<div class="t" style="font-size:9.6px;line-height:12.48px;top:518.36px;font-weight:700;color:#111;left:933.42px;transform:scaleX(0.9717);transform-origin:left center;">30~39세</div>
<div class="t" style="font-size:9.6px;line-height:12.48px;top:518.36px;font-weight:700;color:#111;left:987.32px;transform:scaleX(0.9801);transform-origin:left center;">40~49세</div>
<div class="t" style="font-size:9.6px;line-height:12.48px;top:518.36px;font-weight:700;color:#111;left:1041.42px;transform:scaleX(0.9633);transform-origin:left center;">50~59세</div>
<div class="t" style="font-size:9.6px;line-height:12.48px;top:518.36px;font-weight:700;color:#111;left:1094.92px;word-spacing:0.38px;letter-spacing:0.391px;">60세 이상</div>
<div class="t" style="font-size:13px;line-height:16.9px;top:593.55px;font-weight:700;color:#111;left:650.73px;letter-spacing:0.398px;">2662명,</div>
<div class="t" style="font-size:13px;line-height:16.9px;top:611.35px;font-weight:700;color:#111;left:656.48px;transform:scaleX(0.9774);transform-origin:left center;">30.1%</div>
<div class="t" style="font-size:15px;line-height:19.5px;top:629.55px;font-weight:500;left:691.3px;letter-spacing:0.532px;">거주지역</div>
<div class="t" style="font-size:13px;line-height:16.9px;top:668.05px;font-weight:700;color:#111;left:715.73px;letter-spacing:0.458px;">6181명,</div>
<div class="t" style="font-size:13px;line-height:16.9px;top:686.35px;font-weight:700;color:#111;left:721.48px;transform:scaleX(0.9746);transform-origin:left center;">69.9%</div>
<div class="t" style="font-size:13px;line-height:16.9px;top:712.8px;font-weight:700;color:#111;left:689.28px;transform:scaleX(0.9840);transform-origin:left center;">동부</div>
<div class="t" style="font-size:13px;line-height:16.9px;top:712.8px;font-weight:700;color:#111;left:731.98px;transform:scaleX(0.9874);transform-origin:left center;">읍면부</div>
<div class="t" style="font-size:11px;line-height:14.3px;top:594.85px;font-weight:700;color:#111;left:1004.86px;letter-spacing:0.385px;">3078명,</div>
<div class="t" style="font-size:11px;line-height:14.3px;top:610.85px;font-weight:700;color:#111;left:1009.46px;transform:scaleX(0.9929);transform-origin:left center;">34.8%</div>
<div class="t" style="font-size:11px;line-height:14.3px;top:574.85px;font-weight:700;color:#111;left:923.56px;letter-spacing:0.385px;">1815명,</div>
<div class="t" style="font-size:11px;line-height:14.3px;top:590.85px;font-weight:700;color:#111;left:927.56px;transform:scaleX(0.9896);transform-origin:left center;">20.5%</div>
<div class="t" style="font-size:11px;line-height:14.3px;top:650.85px;font-weight:700;color:#111;left:903.56px;letter-spacing:0.485px;">2177명,</div>
<div class="t" style="font-size:11px;line-height:14.3px;top:666.85px;font-weight:700;color:#111;left:907.56px;transform:scaleX(0.9896);transform-origin:left center;">24.6%</div>
<div class="t" style="font-size:11px;line-height:14.3px;top:673.55px;font-weight:700;color:#111;left:971.56px;letter-spacing:0.385px;">1773명,</div>
<div class="t" style="font-size:11px;line-height:14.3px;top:689.55px;font-weight:700;color:#111;left:976.36px;transform:scaleX(0.9864);transform-origin:left center;">20.0%</div>
<div class="t" style="font-size:17px;line-height:22.1px;top:624.25px;font-weight:700;left:956.62px;letter-spacing:0.779px;">직업</div>
<div class="t" style="font-size:10px;line-height:13.0px;top:726.2px;font-weight:700;color:#111;left:836.1px;letter-spacing:0.250px;">임금근로자</div>
<div class="t" style="font-size:10px;line-height:13.0px;top:726.2px;font-weight:700;color:#111;left:905.5px;letter-spacing:0.486px;">자영업,고용주</div>
<div class="t" style="font-size:10px;line-height:13.0px;top:726.2px;font-weight:700;color:#111;left:987.6px;letter-spacing:0.394px;">주부</div>
<div class="t" style="font-size:10px;line-height:13.0px;top:726.2px;font-weight:700;color:#111;left:1028.1px;word-spacing:0.40px;letter-spacing:0.156px;">기타(학생, 무직, 기타)</div>
<div class="t" style="font-size:12px;line-height:15.6px;top:770.2px;font-weight:700;color:#111;left:733.52px;letter-spacing:0.648px;">1176명,</div>
<div class="t" style="font-size:12px;line-height:15.6px;top:787.0px;font-weight:700;color:#111;left:738.72px;">13.3%</div>
<div class="t" style="font-size:12px;line-height:15.6px;top:800.5px;font-weight:700;color:#111;left:650.12px;letter-spacing:0.736px;">2802명,</div>
<div class="t" style="font-size:12px;line-height:15.6px;top:818.2px;font-weight:700;color:#111;left:654.32px;letter-spacing:0.332px;">31.7%</div>
<div class="t" style="font-size:12px;line-height:15.6px;top:868.2px;font-weight:700;color:#111;left:754.32px;letter-spacing:0.716px;">4865명,</div>
<div class="t" style="font-size:12px;line-height:15.6px;top:885.95px;font-weight:700;color:#111;left:759.52px;">55.0%</div>
<div class="t" style="font-size:18.5px;line-height:24.05px;top:826.98px;font-weight:700;left:710.26px;transform:scaleX(0.9922);transform-origin:left center;">학력</div>
<div class="t" style="font-size:11.5px;line-height:14.95px;top:916.52px;font-weight:700;color:#111;left:629.34px;letter-spacing:0.827px;">초등교육이하</div>
<div class="t" style="font-size:11.5px;line-height:14.95px;top:916.52px;font-weight:700;color:#111;left:719.94px;letter-spacing:0.797px;">중등교육</div>
<div class="t" style="font-size:11.5px;line-height:14.95px;top:916.52px;font-weight:700;color:#111;left:787.54px;letter-spacing:0.831px;">고등교육</div>
<div class="t" style="font-size:10px;line-height:13.0px;top:767.25px;font-weight:700;left:926px;transform:translateX(-50%);transform-origin:center center;">변수명</div>
<div class="t" style="font-size:10px;line-height:13.0px;top:767.25px;font-weight:700;left:1011px;transform:translateX(-50%);transform-origin:center center;">표본수</div>
<div class="t" style="font-size:10px;line-height:13.0px;top:767.25px;font-weight:700;left:1065.5px;transform:translateX(-50%);transform-origin:center center;">평균</div>
<div class="t" style="font-size:10px;line-height:13.0px;top:767.25px;font-weight:700;left:1119.5px;transform:translateX(-50%);transform-origin:center center;">표준편차</div>
<div class="t" style="font-size:10px;line-height:13.0px;top:788.5px;font-weight:700;left:873.35px;word-spacing:0.40px;letter-spacing:0.466px;">의사_예의있는 태도</div>
<div class="t" style="font-size:10.1px;line-height:13.13px;top:788.43px;left:1011px;transform:translateX(-50%);transform-origin:center center;">8843</div>
<div class="t" style="font-size:10.1px;line-height:13.13px;top:788.43px;left:1065.5px;transform:translateX(-50%);transform-origin:center center;">4.11</div>
<div class="t" style="font-size:10.1px;line-height:13.13px;top:788.43px;left:1119.5px;transform:translateX(-50%);transform-origin:center center;">0.647</div>
<div class="t" style="font-size:10px;line-height:13.0px;top:809.25px;font-weight:700;left:873.35px;word-spacing:0.40px;letter-spacing:0.451px;">의사_충분한 질문기회</div>
<div class="t" style="font-size:10.1px;line-height:13.13px;top:809.18px;left:1011px;transform:translateX(-50%);transform-origin:center center;">8843</div>
<div class="t" style="font-size:10.1px;line-height:13.13px;top:809.18px;left:1065.5px;transform:translateX(-50%);transform-origin:center center;">4.10</div>
<div class="t" style="font-size:10.1px;line-height:13.13px;top:809.18px;left:1119.5px;transform:translateX(-50%);transform-origin:center center;">0.701</div>
<div class="t" style="font-size:10px;line-height:13.0px;top:828.0px;font-weight:700;left:873.35px;word-spacing:0.40px;letter-spacing:0.466px;">의사_알기쉬운 설명</div>
<div class="t" style="font-size:10.1px;line-height:13.13px;top:827.93px;left:1011px;transform:translateX(-50%);transform-origin:center center;">8843</div>
<div class="t" style="font-size:10.1px;line-height:13.13px;top:827.93px;left:1065.5px;transform:translateX(-50%);transform-origin:center center;">4.14</div>
<div class="t" style="font-size:10.1px;line-height:13.13px;top:827.93px;left:1119.5px;transform:translateX(-50%);transform-origin:center center;">0.696</div>
<div class="t" style="font-size:10px;line-height:13.0px;top:846.5px;font-weight:700;left:873.35px;word-spacing:0.40px;letter-spacing:0.363px;">의사_불안에 공감</div>
<div class="t" style="font-size:10.1px;line-height:13.13px;top:846.43px;left:1011px;transform:translateX(-50%);transform-origin:center center;">8843</div>
<div class="t" style="font-size:10.1px;line-height:13.13px;top:846.43px;left:1065.5px;transform:translateX(-50%);transform-origin:center center;">4.07</div>
<div class="t" style="font-size:10.1px;line-height:13.13px;top:846.43px;left:1119.5px;transform:translateX(-50%);transform-origin:center center;">0.676</div>
<div class="t" style="font-size:10px;line-height:13.0px;top:865.25px;font-weight:700;left:873.35px;word-spacing:0.40px;letter-spacing:0.466px;">의사_의사와의 소통</div>
<div class="t" style="font-size:10.1px;line-height:13.13px;top:865.18px;left:1011px;transform:translateX(-50%);transform-origin:center center;">8843</div>
<div class="t" style="font-size:10.1px;line-height:13.13px;top:865.18px;left:1065.5px;transform:translateX(-50%);transform-origin:center center;">4.05</div>
<div class="t" style="font-size:10.1px;line-height:13.13px;top:865.18px;left:1119.5px;transform:translateX(-50%);transform-origin:center center;">0.583</div>
<div class="t" style="font-size:10px;line-height:13.0px;top:883.5px;font-weight:700;left:873.35px;word-spacing:0.40px;letter-spacing:0.451px;">간호사_예의있는 태도</div>
<div class="t" style="font-size:10.1px;line-height:13.13px;top:883.43px;left:1011px;transform:translateX(-50%);transform-origin:center center;">8843</div>
<div class="t" style="font-size:10.1px;line-height:13.13px;top:883.43px;left:1065.5px;transform:translateX(-50%);transform-origin:center center;">4.09</div>
<div class="t" style="font-size:10.1px;line-height:13.13px;top:883.43px;left:1119.5px;transform:translateX(-50%);transform-origin:center center;">0.633</div>
<div class="t" style="font-size:10px;line-height:13.0px;top:902.0px;font-weight:700;left:873.35px;word-spacing:0.40px;letter-spacing:0.451px;">간호사_알기쉬운 설명</div>
<div class="t" style="font-size:10.1px;line-height:13.13px;top:901.93px;left:1011px;transform:translateX(-50%);transform-origin:center center;">8843</div>
<div class="t" style="font-size:10.1px;line-height:13.13px;top:901.93px;left:1065.5px;transform:translateX(-50%);transform-origin:center center;">4.09</div>
<div class="t" style="font-size:10.1px;line-height:13.13px;top:901.93px;left:1119.5px;transform:translateX(-50%);transform-origin:center center;">0.667</div>
<div class="t" style="font-size:10px;line-height:13.0px;top:920.5px;font-weight:700;left:873.35px;word-spacing:0.40px;letter-spacing:0.638px;">치료결과 만족도</div>
<div class="t" style="font-size:10.1px;line-height:13.13px;top:920.43px;left:1011px;transform:translateX(-50%);transform-origin:center center;">8843</div>
<div class="t" style="font-size:10.1px;line-height:13.13px;top:920.43px;left:1065.5px;transform:translateX(-50%);transform-origin:center center;">4.01</div>
<div class="t" style="font-size:10.1px;line-height:13.13px;top:920.43px;left:1119.5px;transform:translateX(-50%);transform-origin:center center;">0.565</div>
<div class="t" style="font-size:17px;line-height:22.1px;top:994.15px;font-weight:700;left:644.82px;word-spacing:0.61px;">성별에 따라 의료진의 의료서비스 만족도에 차이가 있는지 검정함.</div>
<div class="t" style="font-size:13.2px;line-height:17.16px;top:1038.72px;font-weight:700;color:#111;left:755.72px;word-spacing:0.53px;letter-spacing:0.154px;">성별에 따른 의료진의 의료서비스에 대한 만족도</div>
<div class="t" style="font-size:6.8px;line-height:8.84px;top:1063.78px;color:#444;left:854.23px;letter-spacing:1.028px;">남자</div>
<div class="t" style="font-size:6.8px;line-height:8.84px;top:1063.78px;color:#444;left:879.23px;letter-spacing:1.028px;">여자</div>
<div class="t" style="font-size:6.8px;line-height:8.84px;top:1063.58px;color:#444;left:905.23px;transform:scaleX(0.9326);transform-origin:left center;">p-value</div>
<div class="t" style="font-size:8.6px;line-height:11.18px;top:1176.16px;font-weight:700;color:#111;left:673.65px;letter-spacing:0.238px;margin-left:0.12px;transform:translateX(-50%);transform-origin:center center;">4.09</div>
<div class="t" style="font-size:8.6px;line-height:11.18px;top:1143.16px;font-weight:700;color:#111;left:692.35px;letter-spacing:0.313px;margin-left:0.16px;transform:translateX(-50%);transform-origin:center center;">4.13</div>
<div class="t" style="font-size:8.6px;line-height:11.18px;top:1183.16px;font-weight:700;color:#111;left:739.4px;letter-spacing:0.238px;margin-left:0.12px;transform:translateX(-50%);transform-origin:center center;">4.09</div>
<div class="t" style="font-size:8.6px;line-height:11.18px;top:1157.41px;font-weight:700;color:#111;left:758.1px;letter-spacing:0.431px;margin-left:0.22px;transform:translateX(-50%);transform-origin:center center;">4.11</div>
<div class="t" style="font-size:8.6px;line-height:11.18px;top:1144.91px;font-weight:700;color:#111;left:804.4px;letter-spacing:0.238px;margin-left:0.12px;transform:translateX(-50%);transform-origin:center center;">4.13</div>
<div class="t" style="font-size:8.6px;line-height:11.18px;top:1119.91px;font-weight:700;color:#111;left:823.1px;letter-spacing:0.313px;margin-left:0.16px;transform:translateX(-50%);transform-origin:center center;">4.15</div>
<div class="t" style="font-size:8.6px;line-height:11.18px;top:1230.41px;font-weight:700;color:#111;left:870.15px;letter-spacing:0.238px;margin-left:0.12px;transform:translateX(-50%);transform-origin:center center;">4.04</div>
<div class="t" style="font-size:8.6px;line-height:11.18px;top:1179.41px;font-weight:700;color:#111;left:888.85px;letter-spacing:0.313px;margin-left:0.16px;transform:translateX(-50%);transform-origin:center center;">4.09</div>
<div class="t" style="font-size:8.6px;line-height:11.18px;top:1239.41px;font-weight:700;color:#111;left:936.15px;letter-spacing:0.238px;margin-left:0.12px;transform:translateX(-50%);transform-origin:center center;">4.03</div>
<div class="t" style="font-size:8.6px;line-height:11.18px;top:1207.41px;font-weight:700;color:#111;left:954.85px;letter-spacing:0.313px;margin-left:0.16px;transform:translateX(-50%);transform-origin:center center;">4.06</div>
<div class="t" style="font-size:8.6px;line-height:11.18px;top:1182.41px;font-weight:700;color:#111;left:1001.4px;letter-spacing:0.238px;margin-left:0.12px;transform:translateX(-50%);transform-origin:center center;">4.09</div>
<div class="t" style="font-size:8.6px;line-height:11.18px;top:1169.91px;font-weight:700;color:#111;left:1020.1px;letter-spacing:0.313px;margin-left:0.16px;transform:translateX(-50%);transform-origin:center center;">4.10</div>
<div class="t" style="font-size:8.6px;line-height:11.18px;top:1189.16px;font-weight:700;color:#111;left:1066.9px;letter-spacing:0.238px;margin-left:0.12px;transform:translateX(-50%);transform-origin:center center;">4.08</div>
<div class="t" style="font-size:8.6px;line-height:11.18px;top:1169.91px;font-weight:700;color:#111;left:1085.6px;letter-spacing:0.313px;margin-left:0.16px;transform:translateX(-50%);transform-origin:center center;">4.10</div>
<div class="t" style="font-size:6.5px;line-height:8.45px;top:1256.53px;color:#555;left:1114.74px;">0</div>
<div class="t" style="font-size:6.5px;line-height:8.45px;top:1237.78px;color:#555;left:1114.74px;">0.05</div>
<div class="t" style="font-size:6.5px;line-height:8.45px;top:1219.03px;color:#555;left:1114.74px;">0.1</div>
<div class="t" style="font-size:6.5px;line-height:8.45px;top:1200.28px;color:#555;left:1114.74px;">0.15</div>
<div class="t" style="font-size:6.5px;line-height:8.45px;top:1181.53px;color:#555;left:1114.74px;">0.2</div>
<div class="t" style="font-size:6.5px;line-height:8.45px;top:1162.78px;color:#555;left:1114.74px;">0.25</div>
<div class="t" style="font-size:6.5px;line-height:8.45px;top:1144.03px;color:#555;left:1114.74px;">0.3</div>
<div class="t" style="font-size:6.5px;line-height:8.45px;top:1125.28px;color:#555;left:1114.74px;">0.35</div>
<div class="t" style="font-size:6.5px;line-height:8.45px;top:1106.53px;color:#555;left:1114.74px;">0.4</div>
<div class="t" style="font-size:6.5px;line-height:8.45px;top:1087.78px;color:#555;left:1114.74px;">0.45</div>
<div class="t" style="font-size:6.5px;line-height:8.45px;top:1069.03px;color:#555;left:1114.74px;">0.5</div>
<div class="t" style="font-size:6.5px;line-height:8.45px;top:1151.78px;color:#555;left:1138.75px;transform:translateX(-50%) rotate(90deg);transform-origin:center center;">p-value</div>
<div class="t" style="font-size:6.3px;line-height:8.19px;top:1120.4px;color:#555;left:637.5px;transform:translateX(-50%) rotate(-90deg);transform-origin:center center;">만족도(1~5)</div>
<div class="t" style="font-size:7px;line-height:9.1px;top:1266.2px;font-weight:700;color:#222;left:655.22px;transform:scaleX(0.9599);transform-origin:left center;">의사_예의있는 태도</div>
<div class="t" style="font-size:7px;line-height:9.1px;top:1266.2px;font-weight:700;color:#222;left:717.22px;transform:scaleX(0.9765);transform-origin:left center;">의사_충분한 질문기회</div>
<div class="t" style="font-size:7px;line-height:9.1px;top:1266.2px;font-weight:700;color:#222;left:786.47px;transform:scaleX(0.9686);transform-origin:left center;">의사_알기쉬운 설명</div>
<div class="t" style="font-size:7px;line-height:9.1px;top:1266.2px;font-weight:700;color:#222;left:854.72px;transform:scaleX(0.9831);transform-origin:left center;">의사_불안에 공감</div>
<div class="t" style="font-size:7px;line-height:9.1px;top:1266.2px;font-weight:700;color:#222;left:917.22px;transform:scaleX(0.9686);transform-origin:left center;">의사_의사와의 소통</div>
<div class="t" style="font-size:7px;line-height:9.1px;top:1266.2px;font-weight:700;color:#222;left:980.22px;transform:scaleX(0.9686);transform-origin:left center;">간호사_예의있는 태도</div>
<div class="t" style="font-size:7px;line-height:9.1px;top:1266.2px;font-weight:700;color:#222;left:1045.97px;transform:scaleX(0.9686);transform-origin:left center;">간호사_알기쉬운 설명</div>
<div class="t" style="font-size:6.3px;line-height:8.19px;top:1280.9px;color:#666;left:852.25px;transform:scaleX(0.9557);transform-origin:left center;">의료진의 의료서비스</div>
<div class="t" style="font-size:11.3px;line-height:14.69px;top:1316.15px;font-weight:700;color:#111;left:759.27px;word-spacing:0.45px;letter-spacing:0.676px;margin-left:0.34px;transform:translateX(-50%);transform-origin:center center;">의료진의 의료서비스</div>
<div class="t" style="font-size:11.3px;line-height:14.69px;top:1316.15px;font-weight:700;color:#111;left:852.4px;letter-spacing:1.054px;margin-left:0.53px;transform:translateX(-50%);transform-origin:center center;">성별</div>
<div class="t" style="font-size:11.3px;line-height:14.69px;top:1316.15px;font-weight:700;color:#111;left:904.4px;letter-spacing:1.054px;margin-left:0.53px;transform:translateX(-50%);transform-origin:center center;">평균</div>
<div class="t" style="font-size:11.3px;line-height:14.69px;top:1316.15px;font-weight:700;color:#111;left:956.55px;letter-spacing:0.956px;margin-left:0.48px;transform:translateX(-50%);transform-origin:center center;">표준편차</div>
<div class="t" style="font-size:11.3px;line-height:14.69px;top:1316.15px;font-weight:700;color:#111;left:1009.05px;transform:translateX(-50%);transform-origin:center center;">t</div>
<div class="t" style="font-size:11.3px;line-height:14.69px;top:1316.15px;font-weight:700;color:#111;left:1061.55px;transform:translateX(-50%) scaleX(0.9960);transform-origin:center center;">p-value</div>
<div class="t" style="font-size:11.3px;line-height:14.69px;top:1342.88px;color:#111;left:759.27px;word-spacing:0.45px;letter-spacing:0.412px;margin-left:0.21px;transform:translateX(-50%);transform-origin:center center;">의사_예의있는 태도</div>
<div class="t" style="font-size:11.3px;line-height:14.69px;top:1333.95px;color:#111;left:852.4px;letter-spacing:0.554px;margin-left:0.28px;transform:translateX(-50%);transform-origin:center center;">남자</div>
<div class="t" style="font-size:11.3px;line-height:14.69px;top:1352.15px;color:#111;left:852.4px;letter-spacing:0.554px;margin-left:0.28px;transform:translateX(-50%);transform-origin:center center;">여자</div>
<div class="t" style="font-size:10.8px;line-height:14.04px;top:1334.28px;color:#111;left:904.4px;transform:translateX(-50%);transform-origin:center center;">4.09</div>
<div class="t" style="font-size:10.8px;line-height:14.04px;top:1352.48px;color:#111;left:904.4px;transform:translateX(-50%);transform-origin:center center;">4.13</div>
<div class="t" style="font-size:10.8px;line-height:14.04px;top:1334.28px;color:#111;left:956.55px;transform:translateX(-50%);transform-origin:center center;">0.641</div>
<div class="t" style="font-size:10.8px;line-height:14.04px;top:1352.48px;color:#111;left:956.55px;transform:translateX(-50%);transform-origin:center center;">0.650</div>
<div class="t" style="font-size:10.8px;line-height:14.04px;top:1343.2px;color:#111;left:1009.05px;transform:translateX(-50%);transform-origin:center center;">-2.536</div>
<div class="t" style="font-size:10.8px;line-height:14.04px;top:1343.2px;color:#111;left:1061.55px;transform:translateX(-50%);transform-origin:center center;">0.011</div>
<div class="t" style="font-size:11.3px;line-height:14.69px;top:1378.93px;color:#111;left:759.27px;word-spacing:0.45px;letter-spacing:0.385px;margin-left:0.19px;transform:translateX(-50%);transform-origin:center center;">의사_충분한 질문기회</div>
<div class="t" style="font-size:11.3px;line-height:14.69px;top:1370.0px;color:#111;left:852.4px;letter-spacing:0.554px;margin-left:0.28px;transform:translateX(-50%);transform-origin:center center;">남자</div>
<div class="t" style="font-size:11.3px;line-height:14.69px;top:1388.2px;color:#111;left:852.4px;letter-spacing:0.554px;margin-left:0.28px;transform:translateX(-50%);transform-origin:center center;">여자</div>
<div class="t" style="font-size:10.8px;line-height:14.04px;top:1370.33px;color:#111;left:904.4px;transform:translateX(-50%);transform-origin:center center;">4.09</div>
<div class="t" style="font-size:10.8px;line-height:14.04px;top:1388.53px;color:#111;left:904.4px;transform:translateX(-50%);transform-origin:center center;">4.11</div>
<div class="t" style="font-size:10.8px;line-height:14.04px;top:1370.33px;color:#111;left:956.55px;transform:translateX(-50%);transform-origin:center center;">0.701</div>
<div class="t" style="font-size:10.8px;line-height:14.04px;top:1388.53px;color:#111;left:956.55px;transform:translateX(-50%);transform-origin:center center;">0.701</div>
<div class="t" style="font-size:10.8px;line-height:14.04px;top:1379.26px;color:#111;left:1009.05px;transform:translateX(-50%);transform-origin:center center;">-1.816</div>
<div class="t" style="font-size:10.8px;line-height:14.04px;top:1379.26px;color:#111;left:1061.55px;transform:translateX(-50%);transform-origin:center center;">0.069</div>
<div class="t" style="font-size:11.3px;line-height:14.69px;top:1414.81px;color:#111;left:759.27px;word-spacing:0.45px;letter-spacing:0.412px;margin-left:0.21px;transform:translateX(-50%);transform-origin:center center;">의사_알기쉬운 설명</div>
<div class="t" style="font-size:11.3px;line-height:14.69px;top:1406.05px;color:#111;left:852.4px;letter-spacing:0.554px;margin-left:0.28px;transform:translateX(-50%);transform-origin:center center;">남자</div>
<div class="t" style="font-size:11.3px;line-height:14.69px;top:1424.25px;color:#111;left:852.4px;letter-spacing:0.554px;margin-left:0.28px;transform:translateX(-50%);transform-origin:center center;">여자</div>
<div class="t" style="font-size:10.8px;line-height:14.04px;top:1406.38px;color:#111;left:904.4px;transform:translateX(-50%);transform-origin:center center;">4.13</div>
<div class="t" style="font-size:10.8px;line-height:14.04px;top:1424.58px;color:#111;left:904.4px;transform:translateX(-50%);transform-origin:center center;">4.15</div>
<div class="t" style="font-size:10.8px;line-height:14.04px;top:1406.38px;color:#111;left:956.55px;transform:translateX(-50%);transform-origin:center center;">0.702</div>
<div class="t" style="font-size:10.8px;line-height:14.04px;top:1424.58px;color:#111;left:956.55px;transform:translateX(-50%);transform-origin:center center;">0.691</div>
<div class="t" style="font-size:10.8px;line-height:14.04px;top:1415.13px;color:#111;left:1009.05px;transform:translateX(-50%);transform-origin:center center;">-1.776</div>
<div class="t" style="font-size:10.8px;line-height:14.04px;top:1415.13px;color:#111;left:1061.55px;transform:translateX(-50%);transform-origin:center center;">0.076</div>
<div class="t" style="font-size:11.3px;line-height:14.69px;top:1450.65px;color:#111;left:759.27px;word-spacing:0.45px;letter-spacing:0.446px;margin-left:0.22px;transform:translateX(-50%);transform-origin:center center;">의사_불안에 공감</div>
<div class="t" style="font-size:11.3px;line-height:14.69px;top:1441.75px;color:#111;left:852.4px;letter-spacing:0.554px;margin-left:0.28px;transform:translateX(-50%);transform-origin:center center;">남자</div>
<div class="t" style="font-size:11.3px;line-height:14.69px;top:1459.95px;color:#111;left:852.4px;letter-spacing:0.554px;margin-left:0.28px;transform:translateX(-50%);transform-origin:center center;">여자</div>
<div class="t" style="font-size:10.8px;line-height:14.04px;top:1442.08px;color:#111;left:904.4px;transform:translateX(-50%);transform-origin:center center;">4.04</div>
<div class="t" style="font-size:10.8px;line-height:14.04px;top:1460.28px;color:#111;left:904.4px;transform:translateX(-50%);transform-origin:center center;">4.09</div>
<div class="t" style="font-size:10.8px;line-height:14.04px;top:1442.08px;color:#111;left:956.55px;transform:translateX(-50%);transform-origin:center center;">0.686</div>
<div class="t" style="font-size:10.8px;line-height:14.04px;top:1460.28px;color:#111;left:956.55px;transform:translateX(-50%);transform-origin:center center;">0.667</div>
<div class="t" style="font-size:10.8px;line-height:14.04px;top:1450.98px;color:#111;left:1009.05px;transform:translateX(-50%);transform-origin:center center;">-3.712</div>
<div class="t" style="font-size:10.8px;line-height:14.04px;top:1450.98px;color:#111;left:1061.55px;transform:translateX(-50%);transform-origin:center center;">&lt;0.001</div>
<div class="t" style="font-size:11.3px;line-height:14.69px;top:1486.7px;color:#111;left:759.27px;word-spacing:0.45px;letter-spacing:0.412px;margin-left:0.21px;transform:translateX(-50%);transform-origin:center center;">의사_의사와의 소통</div>
<div class="t" style="font-size:11.3px;line-height:14.69px;top:1477.75px;color:#111;left:852.4px;letter-spacing:0.554px;margin-left:0.28px;transform:translateX(-50%);transform-origin:center center;">남자</div>
<div class="t" style="font-size:11.3px;line-height:14.69px;top:1495.95px;color:#111;left:852.4px;letter-spacing:0.554px;margin-left:0.28px;transform:translateX(-50%);transform-origin:center center;">여자</div>
<div class="t" style="font-size:10.8px;line-height:14.04px;top:1478.08px;color:#111;left:904.4px;transform:translateX(-50%);transform-origin:center center;">4.03</div>
<div class="t" style="font-size:10.8px;line-height:14.04px;top:1496.28px;color:#111;left:904.4px;transform:translateX(-50%);transform-origin:center center;">4.06</div>
<div class="t" style="font-size:10.8px;line-height:14.04px;top:1478.08px;color:#111;left:956.55px;transform:translateX(-50%);transform-origin:center center;">0.586</div>
<div class="t" style="font-size:10.8px;line-height:14.04px;top:1496.28px;color:#111;left:956.55px;transform:translateX(-50%);transform-origin:center center;">0.580</div>
<div class="t" style="font-size:10.8px;line-height:14.04px;top:1487.03px;color:#111;left:1009.05px;transform:translateX(-50%);transform-origin:center center;">-2.728</div>
<div class="t" style="font-size:10.8px;line-height:14.04px;top:1487.03px;color:#111;left:1061.55px;transform:translateX(-50%);transform-origin:center center;">0.006</div>
<div class="t" style="font-size:11.3px;line-height:14.69px;top:1522.81px;color:#111;left:759.27px;word-spacing:0.45px;letter-spacing:0.385px;margin-left:0.19px;transform:translateX(-50%);transform-origin:center center;">간호사_예의있는 태도</div>
<div class="t" style="font-size:11.3px;line-height:14.69px;top:1513.85px;color:#111;left:852.4px;letter-spacing:0.554px;margin-left:0.28px;transform:translateX(-50%);transform-origin:center center;">남자</div>
<div class="t" style="font-size:11.3px;line-height:14.69px;top:1532.05px;color:#111;left:852.4px;letter-spacing:0.554px;margin-left:0.28px;transform:translateX(-50%);transform-origin:center center;">여자</div>
<div class="t" style="font-size:10.8px;line-height:14.04px;top:1514.18px;color:#111;left:904.4px;transform:translateX(-50%);transform-origin:center center;">4.09</div>
<div class="t" style="font-size:10.8px;line-height:14.04px;top:1532.38px;color:#111;left:904.4px;transform:translateX(-50%);transform-origin:center center;">4.10</div>
<div class="t" style="font-size:10.8px;line-height:14.04px;top:1514.18px;color:#111;left:956.55px;transform:translateX(-50%);transform-origin:center center;">0.629</div>
<div class="t" style="font-size:10.8px;line-height:14.04px;top:1532.38px;color:#111;left:956.55px;transform:translateX(-50%);transform-origin:center center;">0.635</div>
<div class="t" style="font-size:10.8px;line-height:14.04px;top:1523.13px;color:#111;left:1009.05px;transform:translateX(-50%);transform-origin:center center;">-0.975</div>
<div class="t" style="font-size:10.8px;line-height:14.04px;top:1523.13px;color:#111;left:1061.55px;transform:translateX(-50%);transform-origin:center center;">0.330</div>
<div class="t" style="font-size:11.3px;line-height:14.69px;top:1558.86px;color:#111;left:759.27px;word-spacing:0.45px;letter-spacing:0.385px;margin-left:0.19px;transform:translateX(-50%);transform-origin:center center;">간호사_알기쉬운 설명</div>
<div class="t" style="font-size:11.3px;line-height:14.69px;top:1549.95px;color:#111;left:852.4px;letter-spacing:0.554px;margin-left:0.28px;transform:translateX(-50%);transform-origin:center center;">남자</div>
<div class="t" style="font-size:11.3px;line-height:14.69px;top:1568.15px;color:#111;left:852.4px;letter-spacing:0.554px;margin-left:0.28px;transform:translateX(-50%);transform-origin:center center;">여자</div>
<div class="t" style="font-size:10.8px;line-height:14.04px;top:1550.28px;color:#111;left:904.4px;transform:translateX(-50%);transform-origin:center center;">4.08</div>
<div class="t" style="font-size:10.8px;line-height:14.04px;top:1568.48px;color:#111;left:904.4px;transform:translateX(-50%);transform-origin:center center;">4.10</div>
<div class="t" style="font-size:10.8px;line-height:14.04px;top:1550.28px;color:#111;left:956.55px;transform:translateX(-50%);transform-origin:center center;">0.668</div>
<div class="t" style="font-size:10.8px;line-height:14.04px;top:1568.48px;color:#111;left:956.55px;transform:translateX(-50%);transform-origin:center center;">0.666</div>
<div class="t" style="font-size:10.8px;line-height:14.04px;top:1559.18px;color:#111;left:1009.05px;transform:translateX(-50%);transform-origin:center center;">-1.437</div>
<div class="t" style="font-size:10.8px;line-height:14.04px;top:1559.18px;color:#111;left:1061.55px;transform:translateX(-50%);transform-origin:center center;">0.151</div>
<div class="t" style="font-size:17px;line-height:22.1px;top:1604.95px;left:633.12px;word-spacing:0.47px;">의사의 의료서비스 중 예의 있는 태도, 불안에 공감, 의사와의 소통은 성</div>
<div class="t" style="font-size:17px;line-height:22.1px;top:1628.15px;left:633.12px;word-spacing:0.68px;letter-spacing:0.053px;">별에 따라 만족도에 차이가 있다. (p-value가 유의수준 0.05보다 작다.)</div>
<div class="t" style="font-size:17px;line-height:22.1px;top:1651.35px;left:633.12px;">이 항목들에 대해서는</div>
<div class="t" style="font-size:17px;line-height:22.1px;top:1651.35px;font-weight:700;left:790.32px;word-spacing:0.38px;">여성의 만족도가 남성보다 높다.</div>
</div>
</body></html>
